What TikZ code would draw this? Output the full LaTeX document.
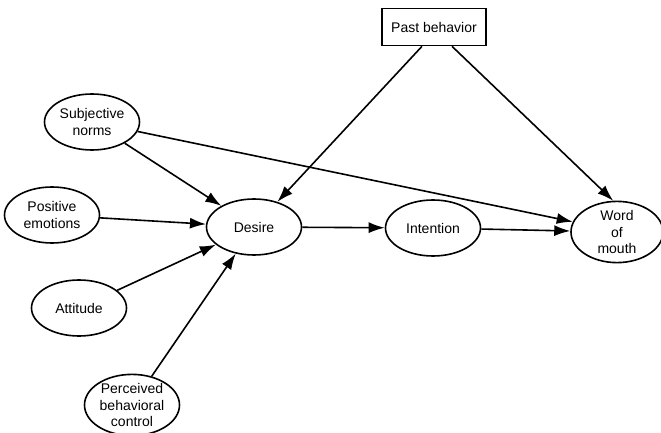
\documentclass[tikz,border=0pt]{standalone}
\usepackage{fontspec}
\setmainfont{Liberation Sans}
\usetikzlibrary{shapes.geometric,arrows.meta}
\begin{document}
\begin{tikzpicture}[x=1pt,y=-1pt,
  var/.style={ellipse,draw,line width=1.6pt,minimum width=95pt,minimum height=56pt,inner sep=0pt,
    align=center,font=\fontsize{14}{16.5}\selectfont},
  box/.style={rectangle,draw,line width=1.6pt,minimum width=104pt,minimum height=37pt,inner sep=0pt,
    font=\fontsize{14}{16.5}\selectfont},
  link/.style={line width=1.6pt,-{Latex[length=16pt,width=11pt]}}]
\useasboundingbox (0,0) rectangle (661,433);
\node[var] (subj) at (92,122) {Subjective\\norms};
\node[var] (pos) at (52,215) {Positive\\emotions};
\node[var] (att) at (79,308) {Attitude};
\node[var] (pbc) at (132,405) {Perceived\\behavioral\\control};
\node[var] (des) at (254,227) {Desire};
\node[var] (int) at (433,228) {Intention};
\node[var,minimum width=92pt,minimum height=60pt] (wom) at (617,232) {Word\\of\\mouth};
\node[box] (past) at (434,27) {Past behavior};
\draw[link] ([xshift=-12pt]past.south) -- (des);
\draw[link] ([xshift=18pt]past.south) -- (wom.97);
\draw[link] (subj) -- (wom.167);
\draw[link] (subj) -- (des);
\draw[link] (pos) -- (des);
\draw[link] (att) -- (des);
\draw[link] (pbc) -- (des);
\draw[link] (des) -- (int);
\draw[link] (int) -- (wom);
\end{tikzpicture}
\end{document}
